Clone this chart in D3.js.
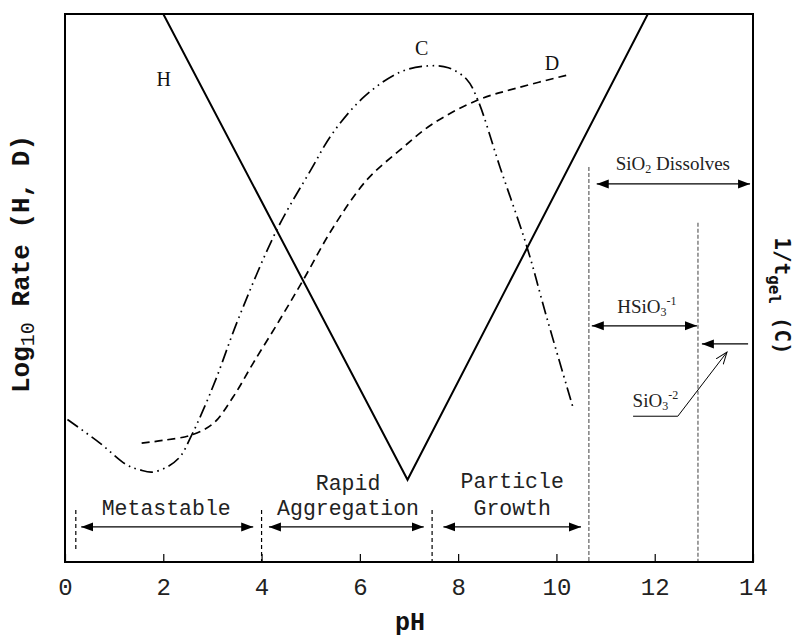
<!DOCTYPE html>
<html><head><meta charset="utf-8">
<script src="https://cdn.jsdelivr.net/npm/d3@7"></script>
<style>body{margin:0;background:#fff;}svg{display:block;}</style>
</head><body>
<svg id="chart" width="797" height="638"></svg>
<script>
// ---- data ----
const xTicks = [0, 2, 4, 6, 8, 10, 12, 14];
const hCurve = [[2.0, 10], [6.97, 1.5], [11.86, 10]];
const cCurve = [[0.05, 2.6], [0.71, 2.17], [1.26, 1.77], [1.53, 1.68], [1.77, 1.64], [2.07, 1.73], [2.34, 1.92], [2.58, 2.32], [2.81, 2.77], [3.09, 3.38], [3.52, 4.42], [4.31, 6.06], [5.0, 7.15], [5.45, 7.83], [6.1, 8.5], [6.82, 8.94], [7.35, 9.05], [7.8, 9.02], [8.18, 8.8], [8.4, 8.43], [8.85, 7.21], [9.4, 5.75], [9.8, 4.47], [10.34, 2.81]];
const dCurve = [[1.56, 2.17], [2.0, 2.22], [2.58, 2.32], [3.02, 2.53], [3.42, 3.01], [3.83, 3.63], [4.37, 4.42], [4.85, 5.15], [5.46, 6.11], [6.14, 6.97], [6.82, 7.52], [7.49, 8.0], [8.4, 8.43], [9.2, 8.65], [10.24, 8.89]];
const curveLabels = [["H", 2.01, 8.69], ["C", 7.26, 9.25], ["D", 9.91, 8.98]];
const blackMarkers = [[0.22, 0.95, 0.22], [4.0, 0.95, 0], [7.47, 0.95, 0]];
const grayMarkers = [[10.66, 7.21, 0], [12.88, 6.19, 0]];
const regionArrows = [[0.33, 3.83, 0.64], [4.15, 7.3, 0.64], [7.7, 10.5, 0.64], [10.82, 13.94, 6.9], [10.72, 12.86, 4.31]];
const regionLabels = [["Metastable", 2.06, 0.86], ["Rapid", 5.76, 1.31], ["Aggregation", 5.76, 0.86], ["Particle", 9.1, 1.35], ["Growth", 9.1, 0.86]];
const sio3Arrow = [13.9, 12.96, 3.98];
const leader = [[11.56, 2.66], [12.47, 2.66], [13.47, 3.83]];

// ---- layout ----
const svg = d3.select("#chart");
const x = d3.scaleLinear().domain([0, 14]).range([65, 753]);
const y = d3.scaleLinear().domain([0, 10]).range([562, 14]);

const defs = svg.append("defs");
defs.append("clipPath").attr("id", "clip").append("rect")
  .attr("x", 65).attr("y", 14).attr("width", 688).attr("height", 548);
const fm = defs.append("marker").attr("id", "arr").attr("markerUnits", "userSpaceOnUse")
  .attr("markerWidth", 14).attr("markerHeight", 12).attr("viewBox", "0 -6 14 12")
  .attr("refX", 12).attr("refY", 0).attr("orient", "auto-start-reverse");
fm.append("path").attr("d", "M0,-4.5L12,0L0,4.5Z").attr("fill", "#000");
const om = defs.append("marker").attr("id", "open").attr("markerUnits", "userSpaceOnUse")
  .attr("markerWidth", 14).attr("markerHeight", 12).attr("viewBox", "0 -6 14 12")
  .attr("refX", 12).attr("refY", 0).attr("orient", "auto");
om.append("path").attr("d", "M0,-4.5L12,0L0,4.5").attr("fill", "none").attr("stroke", "#000").attr("stroke-width", 1);

// axis
const axis = d3.axisBottom(x).tickValues(xTicks).tickSize(-8).tickPadding(16).tickFormat(d3.format("d"));
const gAx = svg.append("g").attr("transform", "translate(0,562)").call(axis);
gAx.select(".domain").remove();
gAx.selectAll(".tick line").attr("stroke", "#000").attr("stroke-width", 1.2);
gAx.selectAll(".tick text").attr("font-family", "Liberation Mono, Courier New, monospace")
  .attr("font-size", 24).attr("fill", "#222");

// curves
const plot = svg.append("g").attr("clip-path", "url(#clip)");
const line = d3.line().x(d => x(d[0])).y(d => y(d[1]));
const smooth = d3.line().x(d => x(d[0])).y(d => y(d[1])).curve(d3.curveCatmullRom.alpha(0.5));
plot.append("path").datum(hCurve).attr("d", line).attr("fill", "none").attr("stroke", "#000").attr("stroke-width", 2);
plot.append("path").datum(cCurve).attr("d", smooth).attr("fill", "none").attr("stroke", "#000")
  .attr("stroke-width", 1.7).attr("stroke-dasharray", "13,4.5,1.6,4.5,1.6,4.5");
plot.append("path").datum(dCurve).attr("d", smooth).attr("fill", "none").attr("stroke", "#000")
  .attr("stroke-width", 1.7).attr("stroke-dasharray", "8,5");

// curve labels
svg.selectAll(".clab").data(curveLabels).join("text").attr("class", "clab")
  .attr("x", d => x(d[1])).attr("y", d => y(d[2])).attr("text-anchor", "middle")
  .attr("font-family", "Liberation Serif, Times New Roman, serif").attr("font-size", 20).attr("fill", "#111")
  .text(d => d[0]);

// vertical markers
svg.selectAll(".bm").data(blackMarkers).join("line").attr("class", "bm")
  .attr("x1", d => x(d[0])).attr("x2", d => x(d[0])).attr("y1", d => y(d[1])).attr("y2", d => y(d[2]))
  .attr("stroke", "#000").attr("stroke-width", 1.2).attr("stroke-dasharray", "4,3");
svg.selectAll(".gm").data(grayMarkers).join("line").attr("class", "gm")
  .attr("x1", d => x(d[0])).attr("x2", d => x(d[0])).attr("y1", d => y(d[1])).attr("y2", d => y(d[2]))
  .attr("stroke", "#777").attr("stroke-width", 1.4).attr("stroke-dasharray", "4,2");

// region arrows (double headed)
svg.selectAll(".ra").data(regionArrows).join("line").attr("class", "ra")
  .attr("x1", d => x(d[0])).attr("x2", d => x(d[1])).attr("y1", d => y(d[2])).attr("y2", d => y(d[2]))
  .attr("stroke", "#000").attr("stroke-width", 1.2)
  .attr("marker-start", "url(#arr)").attr("marker-end", "url(#arr)");

svg.selectAll(".rl").data(regionLabels).join("text").attr("class", "rl")
  .attr("x", d => x(d[1])).attr("y", d => y(d[2])).attr("text-anchor", "middle")
  .attr("font-family", "Liberation Mono, Courier New, monospace").attr("font-size", 21.5).attr("fill", "#222")
  .text(d => d[0]);

// SiO3-2 arrow and leader
svg.append("line").attr("x1", x(sio3Arrow[0])).attr("x2", x(sio3Arrow[1]))
  .attr("y1", y(sio3Arrow[2])).attr("y2", y(sio3Arrow[2])).attr("stroke", "#000").attr("stroke-width", 1.2)
  .attr("marker-end", "url(#arr)");
svg.append("path").datum(leader).attr("d", line).attr("fill", "none").attr("stroke", "#000").attr("stroke-width", 1)
  .attr("marker-end", "url(#open)");

// chemistry labels
const serif = "Liberation Serif, Times New Roman, serif";
const t1 = svg.append("text").attr("x", x(12.37)).attr("y", y(7.15)).attr("text-anchor", "middle")
  .attr("font-family", serif).attr("font-size", 19).attr("fill", "#222");
t1.append("tspan").text("SiO");
t1.append("tspan").attr("font-size", 12).attr("dy", 3).text("2");
t1.append("tspan").attr("dy", -3).text(" Dissolves");

const t2 = svg.append("text").attr("x", x(11.84)).attr("y", y(4.55)).attr("text-anchor", "middle")
  .attr("font-family", serif).attr("font-size", 19).attr("fill", "#222");
t2.append("tspan").text("HSiO");
t2.append("tspan").attr("font-size", 12).attr("dy", 3).text("3");
t2.append("tspan").attr("font-size", 12).attr("dy", -11).text("-1");

const t3 = svg.append("text").attr("x", x(11.55)).attr("y", y(2.83)).attr("text-anchor", "start")
  .attr("font-family", serif).attr("font-size", 19).attr("fill", "#222");
t3.append("tspan").text("SiO");
t3.append("tspan").attr("font-size", 12).attr("dy", 3).text("3");
t3.append("tspan").attr("font-size", 12).attr("dy", -11).text("-2");

// frame
svg.append("rect").attr("x", 65).attr("y", 14).attr("width", 688).attr("height", 548)
  .attr("fill", "none").attr("stroke", "#000").attr("stroke-width", 2);

// axis titles
svg.append("text").attr("x", 410).attr("y", 630).attr("text-anchor", "middle")
  .attr("font-family", "Liberation Mono, Courier New, monospace").attr("font-weight", "bold")
  .attr("font-size", 25).attr("fill", "#111").text("pH");

const lt = svg.append("text").attr("transform", "translate(29,264) rotate(-90)").attr("text-anchor", "middle")
  .attr("font-family", "Liberation Mono, Courier New, monospace").attr("font-weight", "bold")
  .attr("font-size", 26).attr("fill", "#111");
lt.append("tspan").text("Log");
lt.append("tspan").attr("font-size", 20).attr("font-weight", "normal").attr("dy", 5).text("10");
lt.append("tspan").attr("dy", -5).text(" Rate (H, D)");

const rt = svg.append("text").attr("transform", "translate(775,296) rotate(90)").attr("text-anchor", "middle")
  .attr("font-family", "DejaVu Sans Mono, monospace").attr("font-weight", "bold")
  .attr("font-size", 21).attr("fill", "#111");
rt.append("tspan").text("1/t");
rt.append("tspan").attr("font-size", 16).attr("dy", 6).text("gel");
rt.append("tspan").attr("dy", -6).text(" (C)");
</script>
</body></html>
